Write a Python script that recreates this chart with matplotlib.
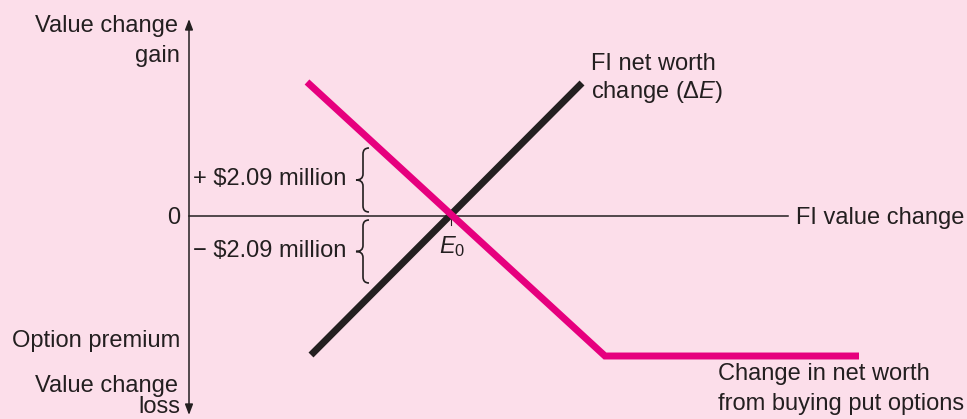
import matplotlib
matplotlib.use("Agg")
import matplotlib.pyplot as plt
from matplotlib.path import Path
from matplotlib.patches import PathPatch

plt.rcParams['font.family'] = ['Liberation Sans', 'DejaVu Sans']
plt.rcParams['mathtext.fontset'] = 'custom'
plt.rcParams['mathtext.rm'] = 'Liberation Sans'
plt.rcParams['mathtext.it'] = 'Liberation Sans:italic'

BG = '#fcdeea'
INK = '#231f20'
PINK = '#e6007e'

# values (E0 at origin)
delta_e_x = [-140, 131]
delta_e_y = [-139, 133]
put_x = [-144, 154, 408]
put_y = [134, -140, -140]
hedge_gain = (4, 68)     # brace span, + $2.09 million
hedge_loss = (-67, -4)   # brace span, - $2.09 million

fig = plt.figure(figsize=(9.67, 4.19), dpi=100, facecolor=BG)
ax = fig.add_axes([0, 0, 1, 1])
ax.set_facecolor(BG)
ax.set_xlim(-451, 516)
ax.set_ylim(-203, 216)
ax.axis('off')

# axes
ax.annotate('', xy=(-262, 197), xytext=(-262, -199),
            arrowprops=dict(arrowstyle='<|-|>,head_length=0.45,head_width=0.17',
                            mutation_scale=14, lw=1.1, color=INK,
                            shrinkA=0, shrinkB=0))
ax.plot([-262, 337], [0, 0], color=INK, lw=1.1)
ax.plot([0, 0], [3, -9], color=INK, lw=0.8)

# lines
ax.plot(delta_e_x, delta_e_y, color=INK, lw=5, solid_capstyle='butt', zorder=3)
ax.plot(put_x, put_y, color=PINK, lw=5, solid_capstyle='butt',
        solid_joinstyle='miter', zorder=4)


def brace(lo, hi, xa=-82, xm=-88, xt=-95, r=6):
    mid = (lo + hi) / 2
    verts = [(xa, hi), (xm, hi), (xm, hi - r),
             (xm, mid + r), (xm, mid), (xt, mid),
             (xm, mid), (xm, mid - r),
             (xm, lo + r), (xm, lo), (xa, lo)]
    codes = [Path.MOVETO, Path.CURVE3, Path.CURVE3,
             Path.LINETO, Path.CURVE3, Path.CURVE3,
             Path.CURVE3, Path.CURVE3,
             Path.LINETO, Path.CURVE3, Path.CURVE3]
    ax.add_patch(PathPatch(Path(verts, codes), fill=False, lw=1.2, color=INK))


brace(*hedge_gain)
brace(*hedge_loss)

fs = 17
kw = dict(fontsize=fs, color=INK, va='baseline')
ax.text(-273, 184, 'Value change', ha='right', **kw)
ax.text(-271, 154, 'gain', ha='right', **kw)
ax.text(-271, -8, '0', ha='right', **kw)
ax.text(-271, -131, 'Option premium', ha='right', **kw)
ax.text(-273, -176, 'Value change', ha='right', **kw)
ax.text(-271, -197, 'loss', ha='right', **kw)
ax.text(-258, 31, '+ \\$2.09 million', ha='left', **kw)
ax.text(-258, -41, '\u2212 \\$2.09 million', ha='left', **kw)
ax.text(1, -37, r'$E_0$', ha='center', **kw)
ax.text(140, 146, 'FI net worth', ha='left', **kw)
ax.text(140, 118, r'change ($\Delta E$)', ha='left', **kw)
ax.text(345, -8, 'FI value change', ha='left', **kw)
ax.text(267, -164, 'Change in net worth', ha='left', **kw)
ax.text(267, -194, 'from buying put options', ha='left', **kw)

fig.savefig('out.png', dpi=100, facecolor=BG)
